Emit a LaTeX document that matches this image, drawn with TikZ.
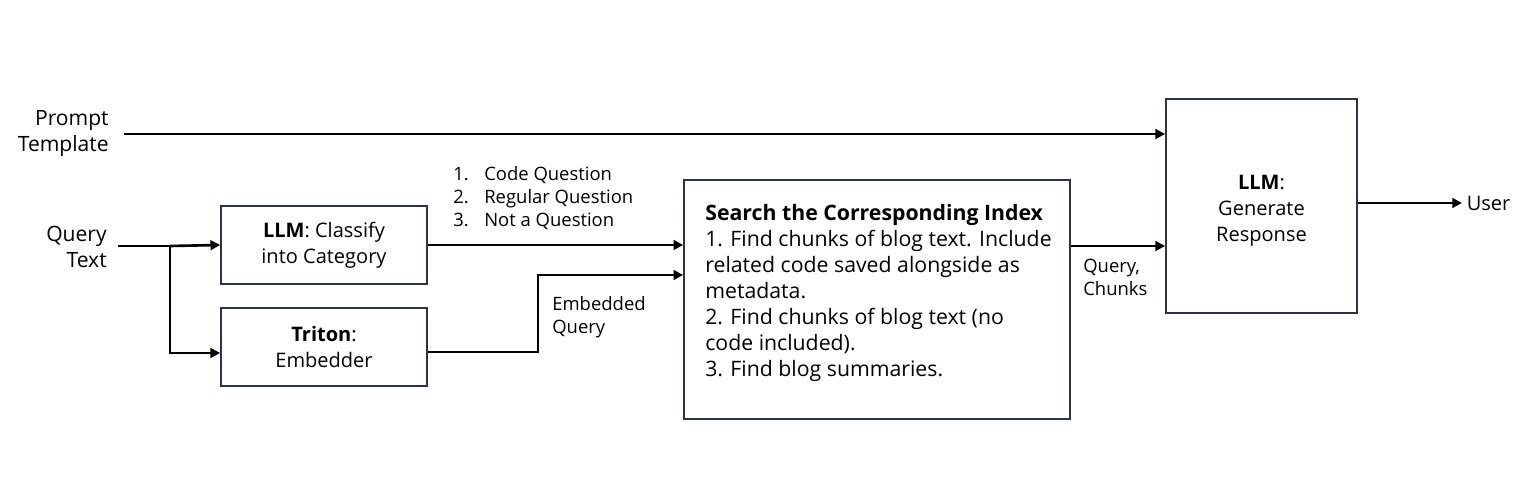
\documentclass[tikz,border=0pt]{standalone}
\usepackage{fontspec}
\setmainfont{Open Sans}
\usetikzlibrary{arrows.meta,positioning}
\definecolor{boxblue}{HTML}{2B3350}
\newcommand{\mainsize}{\fontsize{11.4pt}{14.8pt}\selectfont}
\newcommand{\labsize}{\fontsize{10.5pt}{13pt}\selectfont}

\begin{document}
\begin{tikzpicture}[x=0.02cm, y=-0.02cm, >={Triangle[length=5.5pt,width=5.5pt]}, line width=1.5pt,
  box/.style={draw=boxblue, line width=1pt, align=center, inner sep=0pt, font=\mainsize},
  txt/.style={inner sep=0pt, font=\mainsize},
  lbl/.style={align=left, inner sep=0pt, font=\labsize}]
\useasboundingbox (0,0) rectangle (1535,492);

% Inputs
\node[txt, anchor=east, align=right, font=\fontsize{12pt}{14.8pt}\selectfont] (prompt) at (110,134) {Prompt\\Template};
\node[txt, anchor=east, align=right, font=\fontsize{12pt}{14.8pt}\selectfont] (query) at (108,247) {Query\\Text};
\coordinate (split) at (170,246);

% Processing boxes
\node[box, minimum width=4.12cm, minimum height=1.56cm] (classify) at (324,245) {\textbf{LLM}: Classify\\into Category};
\node[box, minimum width=4.12cm, minimum height=1.56cm] (embedder) at (324,347) {\textbf{Triton}:\\Embedder};
\node[box, minimum width=7.72cm, minimum height=4.78cm] (search) at (877,299.5) {};
\node[txt, anchor=north west, align=left, font=\fontsize{12.1pt}{14.8pt}\selectfont] (searchtext) at (704,203) {\textbf{Search the Corresponding Index}\\
  1. Find chunks of blog text. Include\\
  related code saved alongside as\\
  metadata.\\
  2. Find chunks of blog text (no\\
  code included).\\
  3. Find blog summaries.};
\node[box, minimum width=3.82cm, minimum height=4.28cm] (generate) at (1261.5,206) {};
\node[txt, align=center] (gentext) at (1261.5,211) {\textbf{LLM}:\\Generate\\Response};

% Output
\node[txt, anchor=west, inner sep=2pt] (user) at (1462,203) {User};

% Connectors
\draw[->] ([xshift=0.28cm]prompt.east) -- (prompt.east -| generate.west);
\draw (split -| query.east) ++(10,0) -- (split);
\draw[->] (split) -- (classify.west);
\draw[->] (split) |- ([yshift=-0.12cm]embedder.west);
\draw[->] (classify.east) -- (classify.east -| search.west);
\draw[->] ([yshift=-0.1cm]embedder.east) -- ++(110,0) |- ([yshift=0.49cm]search.west);
\coordinate (searchout) at ([yshift=1.07cm]search.east);
\draw[->] (searchout) -- (searchout -| generate.west);
\draw[->] (generate.east |- user.west) -- (user.west);

% Labels
\node[lbl, anchor=west] (categories) at (452,198) {\makebox[0.62cm][l]{1.}Code Question\\
  \makebox[0.62cm][l]{2.}Regular Question\\
  \makebox[0.62cm][l]{3.}Not a Question};
\node[lbl, anchor=west] (embedded) at (551,317) {Embedded\\Query};
\node[lbl, anchor=west] (chunks) at (1082,277) {Query,\\Chunks};

\end{tikzpicture}
\end{document}
